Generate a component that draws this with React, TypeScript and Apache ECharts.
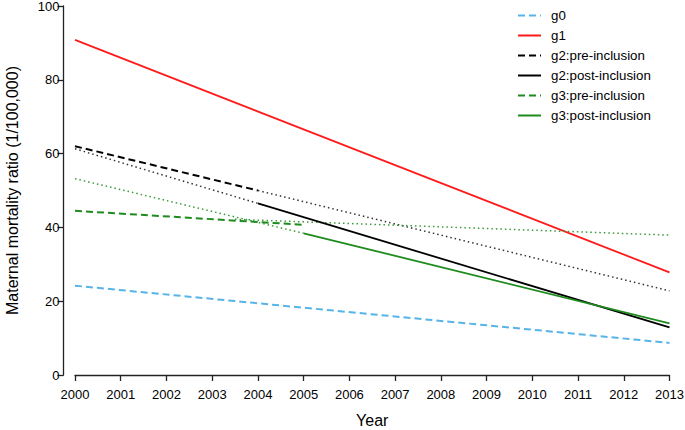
import React, { useEffect, useRef } from "react";
import * as echarts from "echarts";

const xTicks = [2000, 2001, 2002, 2003, 2004, 2005, 2006, 2007, 2008, 2009, 2010, 2011, 2012, 2013];
const yTicks = [0, 20, 40, 60, 80, 100];

const g0 = [[2000, 24.2], [2013, 8.7]];
const g1 = [[2000, 90.8], [2013, 27.8]];
const g2Pre = [[2000, 62.0], [2004, 50.0]];
const g2Post = [[2004, 46.5], [2013, 12.9]];
const g2PreProj = [[2004, 50.0], [2013, 22.8]];
const g2PostBack = [[2000, 61.3], [2004, 46.5]];
const g3Pre = [[2000, 44.5], [2005, 40.7]];
const g3Post = [[2005, 38.4], [2013, 14.0]];
const g3PreProj = [[2003.5, 42.2], [2005, 41.5], [2013, 37.9]];
const g3PostBack = [[2000, 53.2], [2005, 38.4]];

const BLUE = "#56B4E9";
const RED = "#FF1A1A";
const BLACK = "#000000";
const GREEN = "#1E8B1E";
const FONT = "Liberation Sans, Arial, sans-serif";

const legendNames = ["g0", "g1", "g2:pre-inclusion", "g2:post-inclusion", "g3:pre-inclusion", "g3:post-inclusion"];

function line(name: string, data: number[][], color: string, type: any, width: number, z = 2) {
  return {
    name,
    type: "line",
    data,
    symbol: "none",
    showSymbol: false,
    z,
    lineStyle: { color, width, type, cap: "butt" },
    itemStyle: { color },
    emphasis: { disabled: true },
  };
}

export default function App() {
  const ref = useRef<HTMLDivElement>(null);
  useEffect(() => {
    if (!ref.current) return;
    const chart = echarts.init(ref.current, undefined, { renderer: "svg" });
    const dash = [7, 4];
    const dot = [1.5, 3];
    chart.setOption({
      animation: false,
      backgroundColor: "#fff",
      textStyle: { fontFamily: FONT },
      grid: { left: 75, right: 15.5, top: 6, bottom: 55, containLabel: false, outerBoundsMode: "none" },
      legend: {
        data: legendNames,
        orient: "vertical",
        left: 517,
        top: 9,
        padding: 0,
        itemWidth: 23,
        itemHeight: 14,
        itemGap: 7,
        itemStyle: { opacity: 0 },
        textStyle: { fontSize: 13.3, color: "#000", fontFamily: FONT, padding: [0, 0, 0, 5] },
        selectedMode: false,
      },
      xAxis: {
        type: "value",
        min: xTicks[0],
        max: xTicks[xTicks.length - 1],
        interval: 1,
        offset: 10.5,
        name: "Year",
        nameLocation: "middle",
        nameGap: 27,
        nameTextStyle: { fontSize: 16, color: "#000", fontFamily: FONT },
        axisLine: { show: true, lineStyle: { color: "#222", width: 1.3 } },
        axisTick: { show: true, length: 6, lineStyle: { color: "#222", width: 1.3 } },
        axisLabel: { fontSize: 13, color: "#000", margin: 2, formatter: (v: number) => String(v), fontFamily: FONT },
        splitLine: { show: false },
      },
      yAxis: {
        type: "value",
        min: yTicks[0],
        max: yTicks[yTicks.length - 1],
        interval: 20,
        offset: 11.5,
        name: "Maternal mortality ratio (1/100,000)",
        nameLocation: "middle",
        nameGap: 43,
        nameRotate: 90,
        nameTextStyle: { fontSize: 16, color: "#000", fontFamily: FONT },
        axisLine: { show: true, lineStyle: { color: "#222", width: 1.3 } },
        axisTick: { show: true, length: 6, lineStyle: { color: "#222", width: 1.3 } },
        axisLabel: { fontSize: 13, color: "#000", margin: 4, fontFamily: FONT },
        splitLine: { show: false },
      },
      series: [
        line("g0", g0, BLUE, dash, 2),
        line("g1", g1, RED, "solid", 1.8),
        line("g2:pre-inclusion", g2Pre, BLACK, dash, 2, 3),
        line("g2:post-inclusion", g2Post, BLACK, "solid", 1.8, 3),
        line("g3:pre-inclusion", g3Pre, GREEN, dash, 2, 3),
        line("g3:post-inclusion", g3Post, GREEN, "solid", 1.8, 3),
        line("g2proj", g2PreProj, "#333", dot, 1.5),
        line("g2back", g2PostBack, "#333", dot, 1.5),
        line("g3proj", g3PreProj, "#3A9A3A", dot, 1.5),
        line("g3back", g3PostBack, "#3A9A3A", dot, 1.5),
      ],
    });
    return () => chart.dispose();
  }, []);
  return <div ref={ref} style={{ width: 685, height: 430, position: "absolute", left: 0, top: 0 }} />;
}
